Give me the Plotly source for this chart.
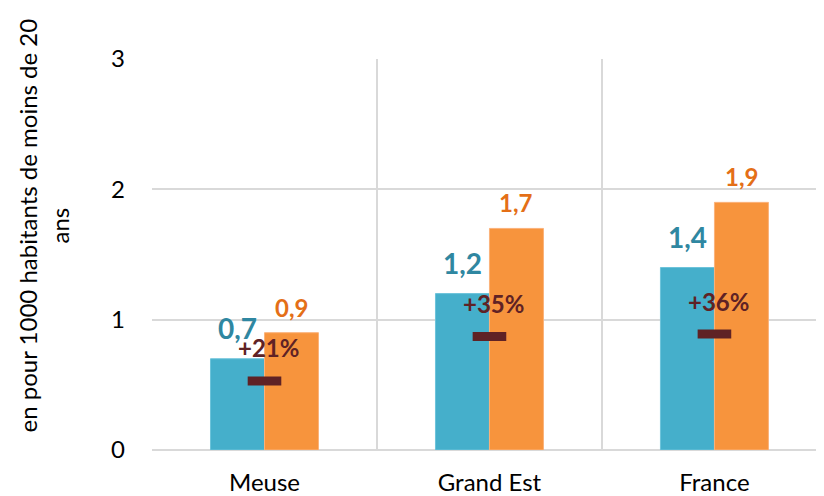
import plotly.graph_objects as go

# data
regions = ['Meuse', 'Grand Est', 'France']
rate_old = [0.7, 1.2, 1.4]
rate_new = [0.9, 1.7, 1.9]
growth_pos = [0.53, 0.87, 0.89]
growth_lbl = ['+21%', '+35%', '+36%']
label_old = ['0,7', '1,2', '1,4']
label_new = ['0,9', '1,7', '1,9']

FONT = 'Lato'
BLUE = '#45afcb'
ORANGE = '#f7943d'
BLUE_TXT = '#2f87a1'
ORANGE_TXT = '#e46f17'
MAROON = '#5f2225'

fig = go.Figure()

fig.add_trace(go.Bar(
    x=regions, y=rate_old, name='old',
    marker=dict(color=BLUE, line=dict(color='#6cc3da', width=1)),
))
fig.add_trace(go.Bar(
    x=regions, y=rate_new, name='new',
    marker=dict(color=ORANGE, line=dict(color='#fbb27a', width=1)),
))

# growth markers (dash) between the two bars
fig.add_trace(go.Scatter(
    x=regions, y=growth_pos, mode='markers',
    marker=dict(symbol='line-ew', size=24, line=dict(color=MAROON, width=9)),
    showlegend=False,
))

# value labels above bars
for reg, yv, lbl in zip(regions, rate_old, label_old):
    fig.add_annotation(x=reg, y=yv, text='<b>' + lbl + '</b>', showarrow=False,
                       yanchor='bottom', xshift=-27, yshift=12,
                       font=dict(family=FONT, size=28, color=BLUE_TXT))
for reg, yv, lbl in zip(regions, rate_new, label_new):
    fig.add_annotation(x=reg, y=yv, text='<b>' + lbl + '</b>', showarrow=False,
                       yanchor='bottom', xshift=27, yshift=9,
                       font=dict(family=FONT, size=24, color=ORANGE_TXT))

for reg, yv, lbl in zip(regions, growth_pos, growth_lbl):
    fig.add_annotation(
        x=reg, y=yv, text='<b>' + lbl + '</b>', showarrow=False,
        yshift=33, xshift=4, font=dict(family=FONT, size=24, color=MAROON),
    )

fig.add_annotation(
    xref='paper', yref='paper', x=-0.21, y=0.574,
    text='en pour 1000 habitants de moins de 20<br>ans',
    textangle=-90, showarrow=False,
    font=dict(family=FONT, size=24, color='#000000'),
)

fig.update_layout(
    width=816, height=488,
    margin=dict(l=144, r=0, t=51, b=39),
    paper_bgcolor='white', plot_bgcolor='white',
    barmode='group', bargap=0.52, bargroupgap=0,
    showlegend=False,
    font=dict(family=FONT, size=24, color='#000000'),
)
fig.update_xaxes(
    range=[-0.5, 2.487], tickson='boundaries',
    showgrid=True, gridcolor='#d9d9d9', gridwidth=1.5,
    showline=False, ticks='', ticklabelstandoff=16,
    tickfont=dict(family=FONT, size=24),
)
fig.update_yaxes(
    range=[0, 3], dtick=1,
    showgrid=True, gridcolor='#d9d9d9', gridwidth=1.5,
    zeroline=True, zerolinecolor='#d9d9d9', zerolinewidth=1.5,
    ticks='', ticklabelstandoff=26,
    tickfont=dict(family=FONT, size=24),
)

fig.write_html('out.html')
